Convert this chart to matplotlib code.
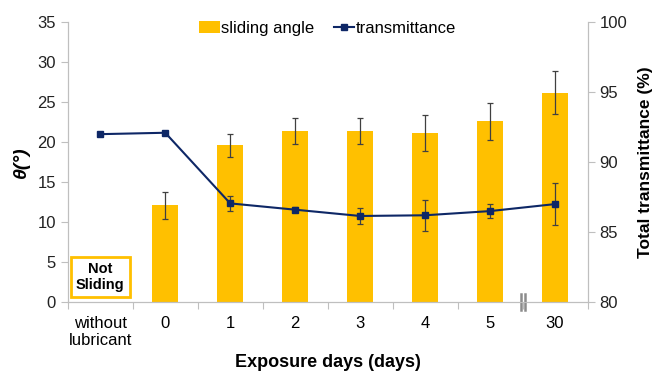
import numpy as np
import matplotlib
matplotlib.use("Agg")
import matplotlib.pyplot as plt
import matplotlib.transforms as mtransforms

plt.rcParams['font.family'] = ['Liberation Sans', 'DejaVu Sans']

# data
categories = ["without\nlubricant", "0", "1", "2", "3", "4", "5", "30"]
sliding_angle = [np.nan, 12.1, 19.6, 21.4, 21.4, 21.1, 22.6, 26.2]
sliding_err = [np.nan, 1.7, 1.4, 1.65, 1.65, 2.25, 2.3, 2.65]
transmittance = [92.0, 92.1, 87.05, 86.6, 86.15, 86.2, 86.5, 87.0]
trans_err = [np.nan, np.nan, 0.55, 0.2, 0.57, 1.1, 0.5, 1.5]

gold = "#FFC000"
navy = "#0E2766"
grey = "#BFBFBF"

x = np.arange(len(categories))

fig = plt.figure(figsize=(6.55, 3.74), dpi=100)
ax = fig.add_axes([0.1035, 0.1925, 0.7935, 0.748])
ax2 = ax.twinx()

# bars (left axis)
bars = ax.bar(x, sliding_angle, width=0.4, color=gold, label="sliding angle", zorder=2)
ax.errorbar(x, sliding_angle, yerr=sliding_err, fmt="none", ecolor="#404040",
            elinewidth=0.9, capsize=2.5, capthick=0.9, zorder=3)

# transmittance line (right axis)
line, = ax2.plot(x, transmittance, color=navy, lw=1.5, marker="s", ms=4.5,
                 label="transmittance", zorder=4)
ax2.errorbar(x, transmittance, yerr=trans_err, fmt="none", ecolor="#404040",
             elinewidth=0.9, capsize=2.5, capthick=0.9, zorder=3)

ax.set_xlim(-0.5, len(categories) - 0.5)
ax.set_ylim(0, 35)
ax.set_yticks(range(0, 36, 5))
ax2.set_ylim(80, 100)
ax2.set_yticks(range(80, 101, 5))

# category labels at centres, tick marks at the boundaries
ax.set_xticks(np.arange(-0.5, len(categories), 1.0))
ax.set_xticklabels([])
ax.set_xticks(x, minor=True)
ax.set_xticklabels(categories, minor=True)
ax.tick_params(axis="x", which="minor", length=0, pad=10, labelsize=12)
ax.tick_params(axis="x", which="major", length=5, color=grey)

for a in (ax, ax2):
    a.spines["top"].set_visible(False)
    for s in ("left", "right", "bottom"):
        a.spines[s].set_color(grey)
    a.tick_params(axis="y", labelsize=12, length=5, color=grey, labelcolor="#222222")
ax.tick_params(axis="x", labelcolor="#222222")

ax.set_xlabel("Exposure days (days)", fontsize=13, fontweight="bold", labelpad=4)
ax.set_ylabel("θ(°)", fontsize=14, fontweight="bold", fontstyle="italic", labelpad=5)
ax2.set_ylabel("Total transmittance (%)", fontsize=12.5, fontweight="bold", labelpad=8)

# "Not Sliding" box
ax.text(0, 3.1, "Not\nSliding", ha="center", va="center", fontsize=10.5,
        fontweight="bold", linespacing=1.2,
        bbox=dict(boxstyle="square,pad=0.35", fc="white", ec=gold, lw=2))

# axis break mark between 5 and 30
trans = mtransforms.blended_transform_factory(ax.transData, ax.transAxes)
for dx in (-0.03, 0.03):
    ax.plot([6.5 + dx, 6.5 + dx], [-0.028, 0.03], transform=trans, color="#8C8C8C",
            lw=1.8, clip_on=False, zorder=6)

ax.set_zorder(ax2.get_zorder() - 1)
ax.patch.set_visible(False)
ax2.patch.set_visible(False)

fig.legend([bars, line], ["sliding angle", "transmittance"], loc="upper center",
           bbox_to_anchor=(0.5, 0.985), ncol=2, frameon=False, fontsize=12,
           handlelength=1.25, handletextpad=0.1, columnspacing=1.15)

fig.savefig("out.png", dpi=100)
